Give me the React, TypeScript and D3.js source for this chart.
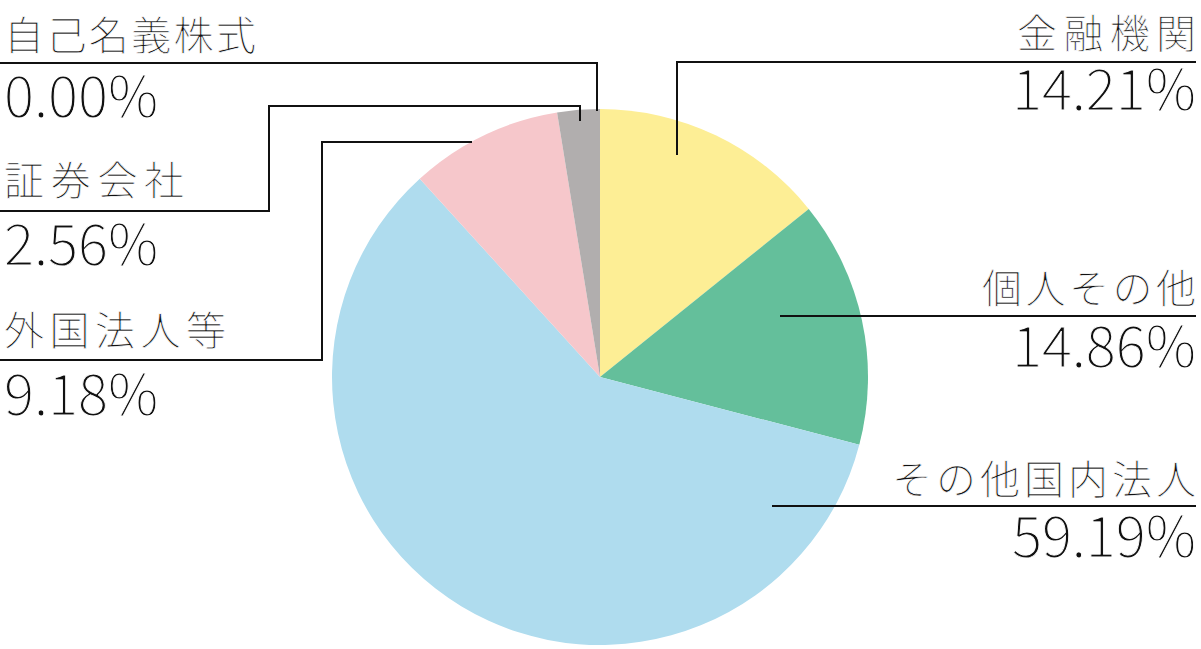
import React, { useEffect } from "react";
import * as d3 from "d3";

const categories = ["金融機関", "個人その他", "その他国内法人", "外国法人等", "証券会社", "自己名義株式"];
const values = [14.21, 14.86, 59.19, 9.18, 2.56, 0.0];
const colors = ["#fdee95", "#64bf9b", "#afdcee", "#f6c7cb", "#b1aeae", "#b1aeae"];

const W = 1201;
const H = 649;
const cx = 600;
const cy = 377;
const R = 268;

type Label = {
  side: "left" | "right";
  nameY: number;
  valueY: number;
  ls: number;
  path: [number, number][];
};
const labels: Label[] = [
  { side: "right", nameY: 48, valueY: 110, ls: 6.3, path: [[1196, 62], [677, 62], [677, 155]] },
  { side: "right", nameY: 303, valueY: 367, ls: 3.5, path: [[1196, 316], [780, 316]] },
  { side: "right", nameY: 494, valueY: 557, ls: 4, path: [[1196, 506], [772, 506]] },
  { side: "left", nameY: 345, valueY: 415, ls: 5.5, path: [[0, 360], [322, 360], [322, 142], [472, 142]] },
  { side: "left", nameY: 195, valueY: 265, ls: 6.7, path: [[0, 211], [269, 211], [269, 106], [580, 106], [580, 121]] },
  { side: "left", nameY: 50, valueY: 117, ls: 2.4, path: [[0, 63], [597, 63], [597, 111]] },
];

export default function App() {
  useEffect(() => {
    document.body.style.margin = "0";
  }, []);
  const pie = d3.pie<number>().sort(null).value((d) => d)(values);
  const arc = d3.arc<d3.PieArcDatum<number>>().innerRadius(0).outerRadius(R);
  const line = d3.line();
  const font = "'Noto Sans CJK JP Light', 'Noto Sans CJK JP', 'Noto Sans', sans-serif";
  return (
    <svg width={W} height={H} style={{ display: "block" }}>
      <g transform={`translate(${cx},${cy})`}>
        {pie.map((p, i) =>
          p.endAngle - p.startAngle > 0 ? <path key={i} d={arc(p) || ""} fill={colors[i]} /> : null
        )}
      </g>
      {labels.map((l, i) => (
        <g key={i}>
          <path d={line(l.path) || ""} fill="none" stroke="#111" strokeWidth={2} />
          <text
            x={l.side === "right" ? 1196 + l.ls : 4}
            y={l.nameY}
            textAnchor={l.side === "right" ? "end" : "start"}
            fontFamily={font}
            fontWeight={300}
            fontSize={40}
            letterSpacing={l.ls}
            fill="#111"
            stroke="#fff"
            strokeWidth={0.7}
          >
            {categories[i]}
          </text>
          <text
            x={l.side === "right" ? 1196 : 4}
            y={l.valueY}
            textAnchor={l.side === "right" ? "end" : "start"}
            fontFamily={font}
            fontWeight={300}
            fontSize={56}
            fill="#111"
            stroke="#fff"
            strokeWidth={0.9}
          >
            {values[i].toFixed(2) + "%"}
          </text>
        </g>
      ))}
    </svg>
  );
}
